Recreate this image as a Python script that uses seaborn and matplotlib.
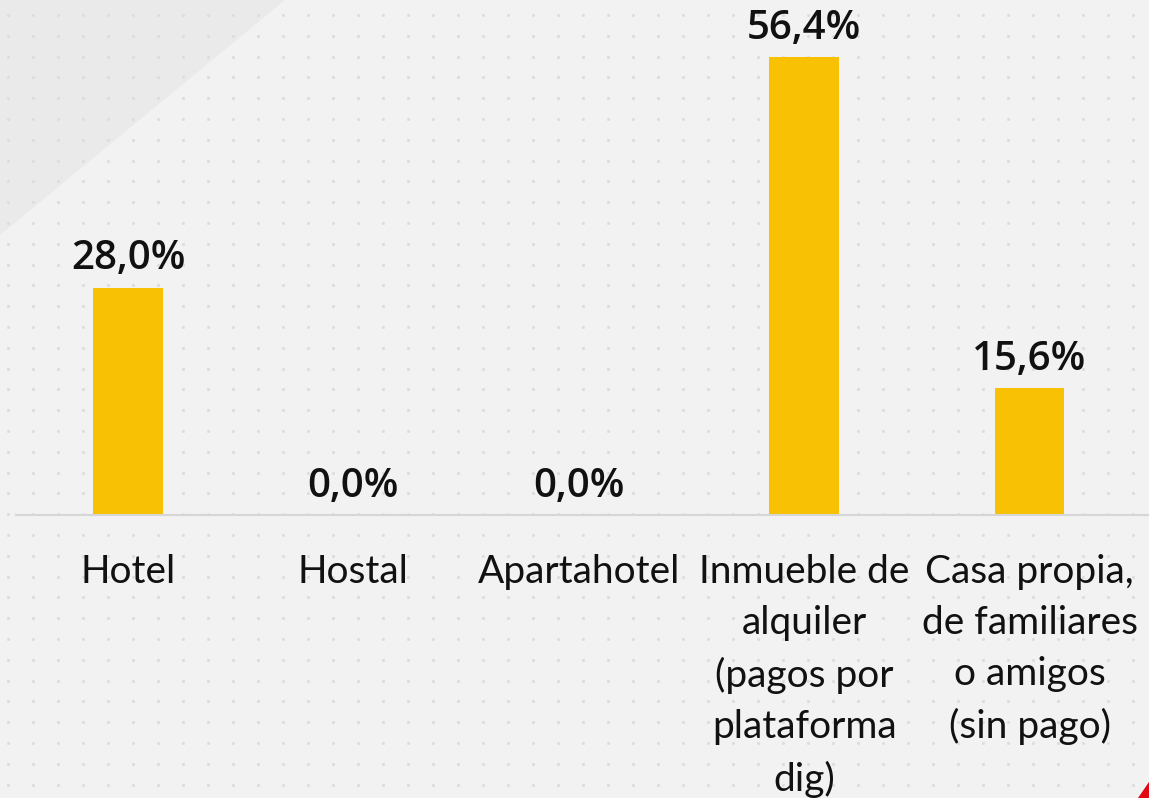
import numpy as np
import pandas as pd
import matplotlib.pyplot as plt
import seaborn as sns
from matplotlib.patches import Polygon

# tipo de alojamiento - porcentaje
categorias = ["Hotel", "Hostal", "Apartahotel",
              "Inmueble de\nalquiler\n(pagos por\nplataforma\ndig)",
              "Casa propia,\nde familiares\no amigos\n(sin pago)"]
porcentajes = [28.0, 0.0, 0.0, 56.4, 15.6]
etiquetas = ["28,0%", "0,0%", "0,0%", "56,4%", "15,6%"]

amarillo = "#F8C104"
fondo = "#F2F2F2"

sns.set_style("white")
plt.rcParams["font.family"] = ["Lato", "DejaVu Sans"]

fig = plt.figure(figsize=(11.49, 7.98), dpi=100, facecolor=fondo)

# fondo decorativo: triangulo gris arriba a la izquierda y puntitos
bg = fig.add_axes([0, 0, 1, 1], zorder=0)
bg.set_xlim(0, 1149)
bg.set_ylim(798, 0)
bg.axis("off")
bg.add_patch(Polygon([[0, 0], [285, 0], [0, 235]], closed=True, color="#EAEAEA", lw=0))
xx, yy = np.meshgrid(np.arange(8, 1149, 25), np.arange(15, 798, 20.8))
bg.scatter(xx.ravel(), yy.ravel(), s=5, color="#DDDDDD", lw=0)
bg.add_patch(Polygon([[1149, 782], [1149, 798], [1138, 798]], closed=True, color="#E30613", lw=0))

ax = fig.add_axes([16 / 1149, (798 - 515) / 798, 1 - 16 / 1149, 515 / 798], zorder=1)
ax.set_facecolor("none")
df = pd.DataFrame({"cat": categorias, "val": porcentajes})
sns.barplot(data=df, x="cat", y="val", color=amarillo, saturation=1, width=0.31,
            linewidth=0, ax=ax)

for i, (v, t) in enumerate(zip(porcentajes, etiquetas)):
    ax.annotate(t, (i, v), xytext=(0, 6), textcoords="offset points",
                ha="center", va="bottom", fontsize=29, fontweight="semibold",
                family=["Open Sans", "DejaVu Sans"], color="#111111")

ax.set_xlim(-0.497, 4.53)
ax.set_ylim(0, 63.4)
ax.set_xlabel("")
ax.set_ylabel("")
ax.set_yticks([])
for s in ["top", "left", "right"]:
    ax.spines[s].set_visible(False)
ax.spines["bottom"].set_color("#D6D6D6")
ax.spines["bottom"].set_linewidth(1.5)
ax.tick_params(axis="x", length=0, pad=28, labelsize=28, labelcolor="#111111")
for lab in ax.get_xticklabels():
    lab.set_linespacing(1.52)
    lab.set_verticalalignment("top")

fig.savefig("out.png", dpi=100, facecolor=fondo)
